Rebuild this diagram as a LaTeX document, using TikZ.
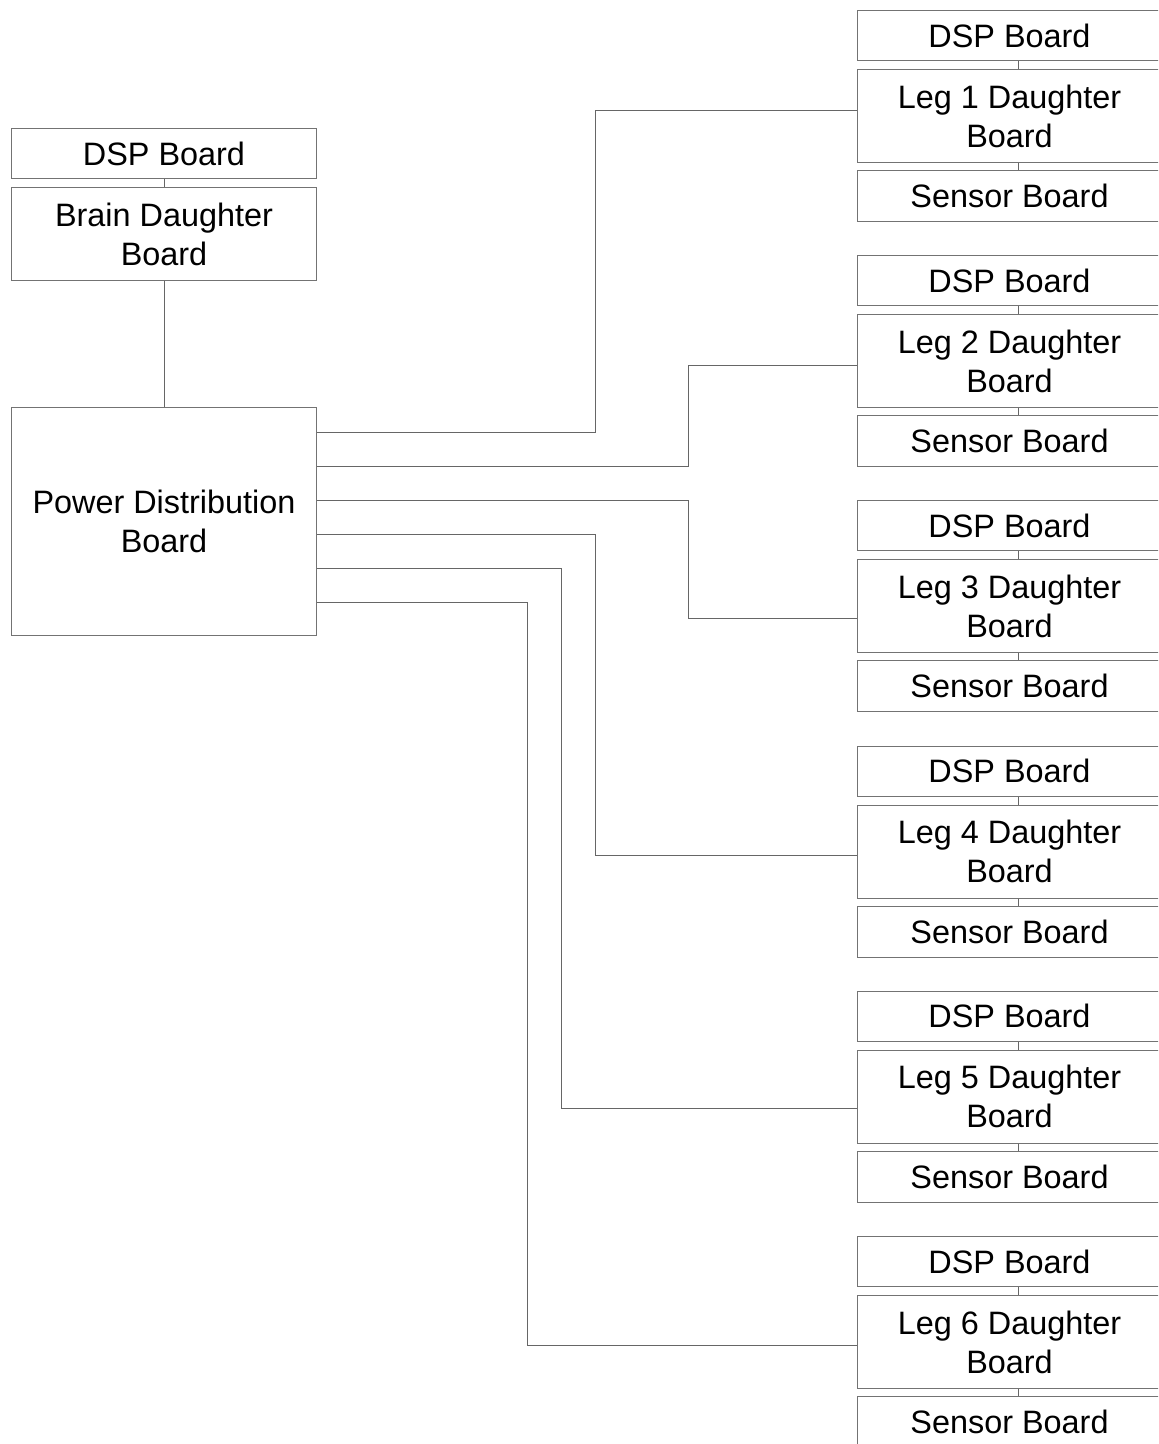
\documentclass[tikz,border=0pt]{standalone}
\usepackage{fontspec}
\setmainfont{Liberation Sans}
\begin{document}
\begin{tikzpicture}[x=0.5pt,y=-0.5pt,
  box/.style={draw=black!55, line width=0.5pt, inner sep=0pt, align=center,
    font=\fontsize{16.2}{19.5}\selectfont, anchor=north west},
  wire/.style={draw=black!60, line width=0.5pt}]
\useasboundingbox (0,0) rectangle (1158,1444);
\clip (0,0) rectangle (1158,1444);
% left column
\node[box, minimum width=152.5pt, minimum height=25pt] (ldsp) at (11,128) {DSP Board};
\node[box, minimum width=152.5pt, minimum height=46.5pt] (brain) at (11,187) {Brain Daughter\\Board};
\node[box, minimum width=152.5pt, minimum height=114pt] (pdb) at (11,407) {Power Distribution\\Board};
\draw[wire] (ldsp) -- (brain);
\draw[wire] (brain) -- (pdb);
% right column
\foreach \k/\t in {1/10,2/255.2,3/500.4,4/745.6,5/990.8,6/1236}{
  \node[box, minimum width=152pt, minimum height=25pt] (dsp\k) at (857,\t) {DSP Board};
  \node[box, minimum width=152pt, minimum height=46.5pt] (leg\k) at (857,{\t+59}) {Leg \k{} Daughter\\Board};
  \node[box, minimum width=152pt, minimum height=25.5pt] (sen\k) at (857,{\t+160}) {Sensor Board};
  \draw[wire] ([xshift=4.5pt]dsp\k.south) -- ([xshift=4.5pt]leg\k.north);
  \draw[wire] ([xshift=4.5pt]leg\k.south) -- ([xshift=4.5pt]sen\k.north);
}
% power connectors
\draw[wire] (pdb.east |- 0,432) -- (595,432) |- (leg1.west |- 0,111);
\draw[wire] (pdb.east |- 0,466) -- (688,466) |- (leg2.west |- 0,365);
\draw[wire] (pdb.east |- 0,500) -- (688,500) |- (leg3.west |- 0,618);
\draw[wire] (pdb.east |- 0,534) -- (595,534) |- (leg4.west |- 0,855);
\draw[wire] (pdb.east |- 0,568) -- (561,568) |- (leg5.west |- 0,1108);
\draw[wire] (pdb.east |- 0,602) -- (527,602) |- (leg6.west |- 0,1345);
\end{tikzpicture}
\end{document}
